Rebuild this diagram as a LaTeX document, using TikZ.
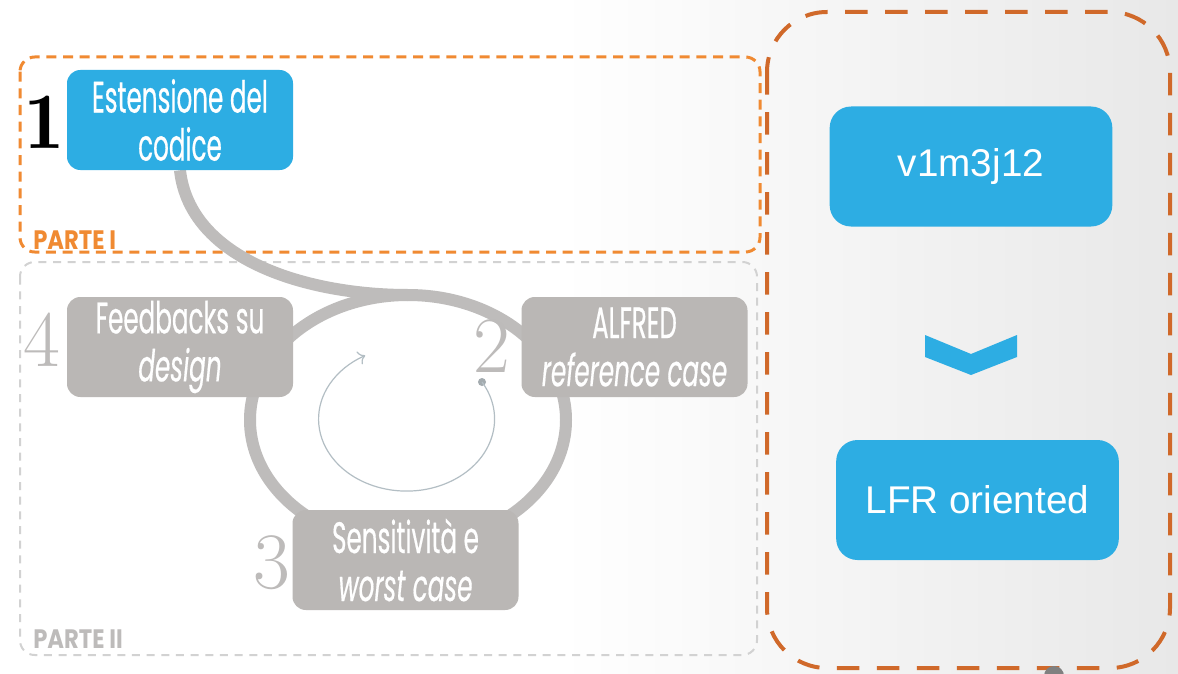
\documentclass[tikz,border=0pt]{standalone}
\usepackage{fontspec}
\setmainfont{Liberation Sans}
\newfontfamily\condfont[FakeStretch=0.56,FakeBold=0.4]{Poppins}
\newfontfamily\partefont[FakeStretch=0.85]{Poppins}
\usetikzlibrary{shapes.geometric,arrows.meta,backgrounds}

\definecolor{azzurro}{HTML}{2DADE3}
\definecolor{grigiobox}{HTML}{BAB7B5}
\definecolor{grigioanello}{HTML}{BEBCBB}
\definecolor{arancio}{HTML}{F08A32}
\definecolor{aranciosc}{HTML}{D0692A}
\definecolor{grigiotratto}{HTML}{D2D2D2}
\definecolor{grigionum}{HTML}{BDBBBA}
\definecolor{freccia}{HTML}{B3BEC4}

\tikzset{
  fase/.style={rounded corners=10pt, minimum width=169.5pt, minimum height=75pt, text=white, align=center, inner sep=0pt, font=\condfont\fontsize{33}{36}\selectfont},
  faseblu/.style={fase, fill=azzurro},
  fasegrigia/.style={fase, fill=grigiobox},
  passo/.style={rounded corners=16pt, fill=azzurro, text=white, minimum width=212pt, minimum height=90pt, font=\fontsize{29}{34}\selectfont},
  numero/.style={font=\fontfamily{lmr}\fontsize{60}{60}\selectfont, inner sep=0pt},
  parte/.style={font=\partefont\bfseries\fontsize{20}{20}\selectfont, anchor=south west, inner sep=0pt},
}

\begin{document}
\begin{tikzpicture}[x=0.75pt,y=0.75pt,yscale=-1,xscale=1]
        \useasboundingbox (0,0) rectangle (1178,674);
        % Text Node: fasi del ciclo
        \node[faseblu] (estensione) at (180,120) {Estensione del\\codice};
        \node[fasegrigia] (feedback) at (180,347) {Feedbacks su\\\textit{design}};
        \node[fasegrigia] (alfred) at (634.5,347) {ALFRED\\\textit{reference case}};
        \node[fasegrigia] (sensitivita) at (405.5,560) {Sensitività e\\\textit{worst case}};
        % Text Node: numeri
        \node[numero, font=\fontfamily{lmr}\bfseries\fontsize{60}{60}\selectfont] (n1) at (44,122) {1};
        \node[numero, text=grigionum] (n4) at (42,340) {4};
        \node[numero, text=grigionum] (n2) at (492,346) {2};
        \node[numero, text=grigionum] (n3) at (272,563) {3};
        % Text Node: parti
        \node[parte, text=arancio] (parte1) at (33,250) {PARTE I};
        \node[parte, text=grigionum] (parte2) at (33,649) {PARTE II};
        % Text Node: versioni
        \node[passo] (versione) at (971,166.5) {v1m3j12};
        \node[passo] (lfr) at (977.5,500) {LFR oriented};
        %Shape: Chevron
        \fill[azzurro] (925,335) -- (971,354) -- (1017,335) -- (1017,357) -- (971,375) -- (925,357) -- cycle;
        %Curve Lines: freccia circolare
        \coordinate (inizio) at (482,382);
        \fill[freccia!70!gray] (inizio) circle[radius=4];
        \draw[freccia, line width=0.9pt, -{To[length=5pt]}] (inizio) arc[start angle=-31, end angle=242, x radius=88, y radius=72];
        %Shape: Circle
        \fill[gray] (1054,676) circle[radius=10];
        \begin{pgfonlayer}{background}
            \fill[white] (0,0) rectangle (1178,674);
            \shade[left color=white, right color=black!9] (560,0) rectangle (1178,674);
            %Shape: Rectangle parte I
            \draw[arancio, line width=2.25pt, dash pattern=on 7.5pt off 5pt, rounded corners=11pt] (20,57) rectangle (760,252);
            %Shape: Rectangle parte II
            \draw[grigiotratto, line width=1.5pt, dash pattern=on 6pt off 5pt, rounded corners=11pt] (20,262) rectangle (757,655);
            %Shape: Rectangle versioni
            \draw[aranciosc, line width=3pt, dash pattern=on 17pt off 13pt, rounded corners=45pt] (767,12) rectangle (1170,668);
            %Shape: Ellipse
            \node[ellipse, draw=grigioanello, line width=9pt, outer sep=0pt, minimum width=237pt, minimum height=187.5pt] (ciclo) at (408,420) {};
            \draw[grigioanello, line width=9pt] (estensione.south) .. controls +(10,90) and +(-100,0) .. (ciclo.north);
        \end{pgfonlayer}
\end{tikzpicture}
\end{document}
